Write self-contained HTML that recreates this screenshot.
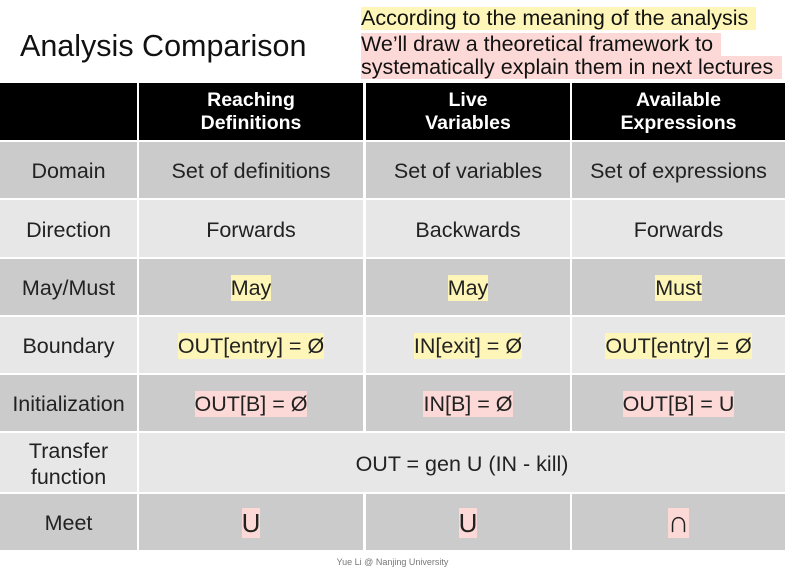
<!DOCTYPE html>
<html><head><meta charset="utf-8"><style>
body{margin:0;width:785px;height:587px;background:#fff;position:relative;overflow:hidden;font-family:"Liberation Sans",Arial,sans-serif;}
.c{position:absolute;display:flex;align-items:center;justify-content:center;text-align:center;color:#222;font-size:21.5px;line-height:26px;padding-top:2px;box-sizing:border-box;}
.h{background:#000;color:#fff;font-weight:bold;font-size:19.5px;line-height:23px;padding-top:0;}
.d{background:#cbcbcb}.l{background:#e7e7e7}
.y{background:#fdf6b8}.p{background:#fcd9d6}
.t{position:absolute;left:361px;font-size:21.5px;line-height:23px;color:#111;white-space:nowrap;}
</style></head><body>
<div style="position:absolute;left:20px;top:29px;font-size:30.5px;color:#111;">Analysis Comparison</div>
<div class="t y" style="top:7px;width:395px;">According to the meaning of the analysis</div>
<div class="t p" style="top:33px;width:360px;">We’ll draw a theoretical framework to</div>
<div class="t p" style="top:56px;width:421px;">systematically explain them in next lectures</div>
<div id="tbl"></div>
<div style="position:absolute;left:0;width:785px;top:557px;text-align:center;font-size:9px;color:#777;">Yue Li @ Nanjing University</div>
<script>
const cols=[[0,137],[139,363],[366,570],[572,785]];
const rows=[[83,140],[142,198],[200,257],[259,315],[317,373],[375,431],[433,492],[494,550]];
const data=[
 ["","Reaching<br>Definitions","Live<br>Variables","Available<br>Expressions"],
 ["Domain","Set of definitions","Set of variables","Set of expressions"],
 ["Direction","Forwards","Backwards","Forwards"],
 ["May/Must","<span class='y'>May</span>","<span class='y'>May</span>","<span class='y'>Must</span>"],
 ["Boundary","<span class='y'>OUT[entry] = Ø</span>","<span class='y'>IN[exit] = Ø</span>","<span class='y'>OUT[entry] = Ø</span>"],
 ["Initialization","<span class='p'>OUT[B] = Ø</span>","<span class='p'>IN[B] = Ø</span>","<span class='p'>OUT[B] = U</span>"],
 ["Transfer<br>function","OUT = gen U (IN - kill)",null,null],
 ["Meet","<span class='p' style='font-size:26px;line-height:30px'>U</span>","<span class='p' style='font-size:26px;line-height:30px'>U</span>","<span class='p' style='font-size:30px;line-height:30px'>∩</span>"]];
const tbl=document.getElementById('tbl');
rows.forEach((r,i)=>{data[i].forEach((txt,j)=>{
 if(txt===null)return;
 const el=document.createElement('div');
 
 
 el.className='c '+(i==0?'h':(i%2?'d':'l'));
 let x1=cols[j][1]; if(i==6&&j==1)x1=785;
 el.style.cssText+=`left:${cols[j][0]}px;top:${r[0]}px;width:${x1-cols[j][0]}px;height:${r[1]-r[0]}px;`;
 el.innerHTML=txt;tbl.appendChild(el);});});
</script>
</body></html>
